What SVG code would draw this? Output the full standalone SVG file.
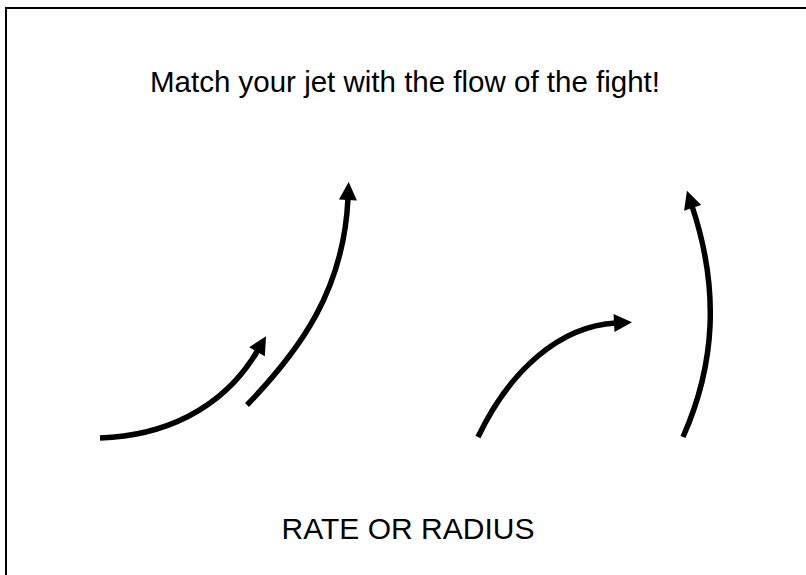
<svg xmlns="http://www.w3.org/2000/svg" width="806" height="575" viewBox="0 0 806 575">
<style>
.t{font-family:"Liberation Sans",Arial,sans-serif;fill:#000;text-anchor:middle}
.c{fill:none;stroke:#000;stroke-width:5.5;stroke-linecap:butt}
</style>
<defs>
<marker id="ah" markerUnits="userSpaceOnUse" markerWidth="22" markerHeight="22" viewBox="0 0 22 22" refX="3" refY="11" orient="auto">
<path d="M1,2 L19,11 L1,20 Z" fill="#000"/>
</marker>
</defs>
<rect x="0" y="0" width="806" height="575" fill="#fff"/>
<path d="M6,575 L6,8 L806,8" fill="none" stroke="#000" stroke-width="2"/>
<g id="title"><text class="t" x="405" y="92" font-size="29.5">Match your jet with the flow of the fight!</text></g>
<g id="connectors">
<path class="c" marker-end="url(#ah)" d="M100,438 C160,436 222,412 258,350"/>
<path class="c" marker-end="url(#ah)" d="M247,405 C300,350 344,290 348,198"/>
<path class="c" marker-end="url(#ah)" d="M478,437 C510,370 560,326 616,323"/>
<path class="c" marker-end="url(#ah)" d="M683,437 C715,365 720,290 692,206"/>
</g>
<g id="caption"><text class="t" x="408" y="539" font-size="30">RATE OR RADIUS</text></g>
</svg>
